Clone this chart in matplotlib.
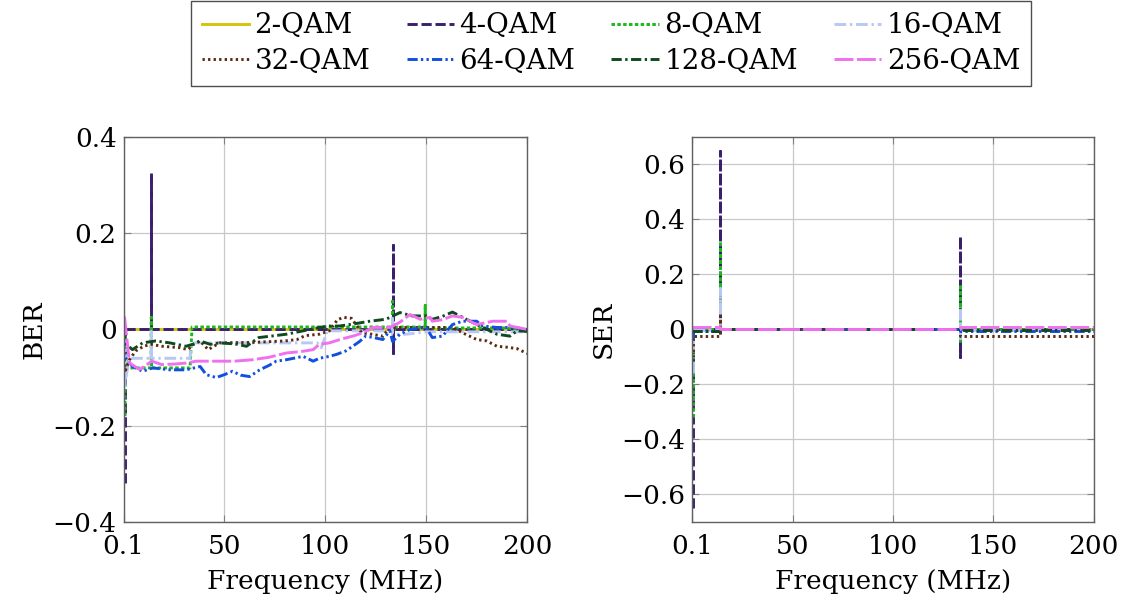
import numpy as np
import matplotlib.pyplot as plt

plt.rcParams['font.family'] = ['DejaVu Serif']
plt.rcParams['mathtext.fontset'] = 'dejavuserif'
plt.rcParams['font.size'] = 19

labels = ["2-QAM", "4-QAM", "8-QAM", "16-QAM", "32-QAM", "64-QAM", "128-QAM", "256-QAM"]
colors = ["#d6c20a", "#3b1f6e", "#1cb81c", "#b8c8f5", "#5c2a12", "#1050e0", "#0e4a1e", "#f070f0"]
dashes = [None, (3.5, 1.3), (1.2, 0.8), (4, 1.3, 0.8, 1.3), (0.8, 1.1),
          (3.5, 1.1, 0.8, 1.1, 0.8, 1.1), (3.5, 1.2, 0.8, 1.2), (6.5, 1.2)]

# ---- BER vs frequency (MHz) ----
ber_2qam_f = [0.1, 200]
ber_2qam = [0, 0]

ber_4qam_f = [0.8, 0.8, 13.8, 13.8, 13.8, 133.3, 133.3, 133.3, 133.3, 200]
ber_4qam = [-0.32, 0, 0, 0.325, 0, 0, 0.175, -0.05, 0, 0]

ber_8qam_f = [0.8, 0.8, 1.2, 2, 13.8, 13.8, 13.8, 33, 34, 133.3, 133.3, 133.3,
              149.5, 149.5, 149.5, 190, 200]
ber_8qam = [-0.18, 0, -0.06, -0.08, -0.08, 0.025, -0.08, -0.08, 0.005, 0.005, 0.058, 0.005,
            0.005, 0.05, 0.003, 0.003, -0.005]

ber_16qam_f = [0.8, 0.8, 1.2, 3, 13.8, 13.8, 13.8, 33, 33.5, 80, 96, 98, 101, 133.3,
               133.3, 133.3, 140, 150, 200]
ber_16qam = [-0.12, -0.02, -0.1, -0.06, -0.06, -0.005, -0.06, -0.06, -0.028, -0.028, -0.028,
             -0.038, -0.003, -0.003, 0.03, -0.01, -0.01, -0.005, -0.005]

ber_32qam_f = [0.1, 1, 3, 6, 10, 13.8, 19, 28, 32, 35, 38, 42, 47.6, 64, 80, 86, 90, 97,
               102, 106, 109, 113, 118, 123, 128.5, 132, 142, 150, 163, 168, 175, 180,
               185, 190, 195, 200]
ber_32qam = [-0.05, -0.085, -0.063, -0.045, -0.035, -0.031, -0.035, -0.038, -0.042, -0.03,
             -0.024, -0.042, -0.028, -0.027, -0.024, -0.021, -0.013, -0.01, -0.003, 0.02,
             0.025, 0.023, -0.007, -0.01, -0.014, 0.004, 0.004, 0.004, 0.004, -0.007,
             -0.021, -0.024, -0.035, -0.037, -0.04, -0.05]

ber_64qam_f = [0.1, 0.5, 4.5, 9.5, 14.5, 23, 31, 38, 41, 46, 50, 54, 58, 62.5, 67.5, 72,
               75.7, 80.7, 89, 94, 97, 102, 105.5, 110, 113.6, 117, 120, 125, 128.5, 132,
               133.3, 137, 142, 146, 150, 153, 158, 163, 168, 175, 178, 185, 195, 200]
ber_64qam = [-0.02, -0.056, -0.077, -0.087, -0.08, -0.084, -0.084, -0.077, -0.094, -0.1,
             -0.094, -0.087, -0.095, -0.098, -0.084, -0.075, -0.066, -0.063, -0.056, -0.066,
             -0.06, -0.056, -0.052, -0.045, -0.035, -0.025, -0.014, -0.018, -0.021, -0.003,
             -0.025, -0.01, 0, 0.002, 0.004, -0.017, -0.014, 0.01, 0.017, 0.017, 0.007,
             0.004, 0.004, -0.004]

ber_128qam_f = [0.1, 1, 4.5, 9.5, 16, 23, 31, 35, 38, 43, 47.6, 55, 61, 67, 75, 80.7, 89,
                97, 102, 107, 115, 122, 130, 137, 143, 150, 153, 158, 163, 168, 176.6,
                185, 191.5, 195, 200]
ber_128qam = [0.0, -0.03, -0.042, -0.028, -0.024, -0.028, -0.035, -0.03, -0.024, -0.031,
              -0.028, -0.03, -0.035, -0.017, -0.013, -0.01, -0.003, 0.004, 0.007, 0.007,
              0.012, 0.017, 0.021, 0.035, 0.028, 0.028, 0.021, 0.027, 0.036, 0.025, 0.007,
              -0.01, -0.014, -0.003, -0.004]

ber_256qam_f = [0.5, 3, 8, 11, 14, 19, 25, 31, 36, 47.6, 55, 64, 72, 80.7, 88, 94, 97,
                102, 108, 113.6, 118, 123.5, 132, 137, 142, 147, 152, 153, 158, 163, 168,
                175, 183, 190, 191.5, 200]
ber_256qam = [0.027, -0.07, -0.083, -0.075, -0.066, -0.073, -0.072, -0.07, -0.066, -0.066,
              -0.066, -0.063, -0.058, -0.049, -0.046, -0.042, -0.031, -0.028, -0.02, -0.014,
              -0.008, 0.004, 0.004, 0.015, 0.031, 0.021, 0.025, 0.017, 0.02, 0.028, 0.025,
              0.01, 0.017, 0.017, 0.007, 0.0]

# ---- SER vs frequency (MHz) ----
ser_2qam_f = [0.1, 200]
ser_2qam = [0, 0]

ser_4qam_f = [0.6, 0.6, 13.8, 13.8, 13.8, 133.3, 133.3, 133.3, 133.3, 200]
ser_4qam = [-0.65, 0, 0, 0.65, 0, 0, 0.34, -0.10, 0, 0]

ser_8qam_f = [0.6, 0.6, 13.8, 13.8, 13.8, 133.3, 133.3, 133.3, 133.3, 200]
ser_8qam = [-0.32, 0, 0, 0.32, 0, 0, 0.165, -0.05, 0, 0]

ser_16qam_f = [0.6, 0.6, 13.8, 13.8, 13.8, 133.3, 133.3, 133.3, 133.3, 200]
ser_16qam = [-0.16, -0.003, -0.003, 0.15, 0, 0, 0.07, -0.03, -0.003, -0.003]

ser_32qam_f = [0.6, 0.6, 13.8, 13.8, 13.8, 133.3, 133.3, 200]
ser_32qam = [-0.1, -0.025, -0.025, 0.06, 0, 0, -0.025, -0.025]

ser_64qam_f = [0.6, 0.6, 13.8, 13.8, 133.3, 133.3, 200]
ser_64qam = [-0.03, -0.006, -0.006, 0, 0, -0.006, -0.006]

ser_128qam_f = [0.1, 13.8, 13.8, 133.3, 133.3, 200]
ser_128qam = [-0.004, -0.004, 0, 0, -0.002, -0.002]

ser_256qam_f = [0.1, 13.8, 13.8, 133.3, 133.3, 200]
ser_256qam = [0.008, 0.008, 0, 0, 0.008, 0.008]

ber_data = [(ber_2qam_f, ber_2qam), (ber_4qam_f, ber_4qam), (ber_8qam_f, ber_8qam),
            (ber_16qam_f, ber_16qam), (ber_32qam_f, ber_32qam), (ber_64qam_f, ber_64qam),
            (ber_128qam_f, ber_128qam), (ber_256qam_f, ber_256qam)]
ser_data = [(ser_2qam_f, ser_2qam), (ser_4qam_f, ser_4qam), (ser_8qam_f, ser_8qam),
            (ser_16qam_f, ser_16qam), (ser_32qam_f, ser_32qam), (ser_64qam_f, ser_64qam),
            (ser_128qam_f, ser_128qam), (ser_256qam_f, ser_256qam)]

x_ticks = [0.1, 50, 100, 150, 200]
x_ticklabels = ["0.1", "50", "100", "150", "200"]


def drawPanel(ax, data, ylabel, yticks, ylim):
    handles = []
    for (f, v), lab, c, d in zip(data, labels, colors, dashes):
        line, = ax.plot(f, v, color=c, lw=2.1, label=lab)
        if d is not None:
            line.set_dashes(d)
        handles.append(line)
    ax.set_xlim(0.1, 200)
    ax.set_ylim(*ylim)
    ax.set_xticks(x_ticks)
    ax.set_xticklabels(x_ticklabels)
    ax.set_yticks(yticks)
    ax.set_yticklabels([f"{t:g}".replace("-", "\u2212") for t in yticks])
    ax.grid(True, color="#c8c8c8", lw=0.9)
    ax.set_axisbelow(True)
    ax.tick_params(direction="in", length=5, color="#808080", top=True, right=True, pad=5)
    ax.tick_params(axis="x", pad=9)
    for s in ax.spines.values():
        s.set_color("#606060")
        s.set_linewidth(1.0)
    ax.set_xlabel("Frequency (MHz)", labelpad=7)
    ax.set_ylabel(ylabel, labelpad=4)
    return handles


fig = plt.figure(figsize=(11.24, 6.0), dpi=100)
ax1 = fig.add_axes([0.110, 0.130, 0.359, 0.642])
ax2 = fig.add_axes([0.616, 0.130, 0.357, 0.642])

handles = drawPanel(ax1, ber_data, "BER", [-0.4, -0.2, 0, 0.2, 0.4], (-0.4, 0.4))
drawPanel(ax2, ser_data, "SER", [-0.6, -0.4, -0.2, 0, 0.2, 0.4, 0.6], (-0.7, 0.7))

# legend filled row by row: 4 columns, 2 rows
order = [0, 4, 1, 5, 2, 6, 3, 7]
leg = fig.legend([handles[i] for i in order], [labels[i] for i in order], ncol=4,
                 loc="upper center", bbox_to_anchor=(0.5436, 0.998), borderaxespad=0.0,
                 frameon=True, fancybox=False, edgecolor="#222222", handlelength=1.7,
                 handletextpad=0.2, columnspacing=1.3, borderpad=0.4, labelspacing=0.3,
                 fontsize=20)
leg.get_frame().set_linewidth(1.0)

fig.savefig("out.png", dpi=100)
